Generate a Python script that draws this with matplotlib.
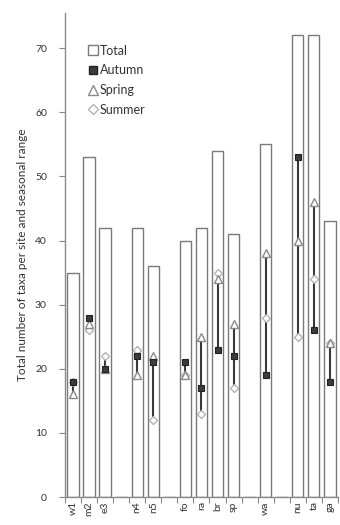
import numpy as np
import matplotlib.pyplot as plt
from matplotlib.lines import Line2D

plt.rcParams['font.family'] = ['Lato', 'DejaVu Sans']

nan = np.nan

# Sites, blank entries leave a gap between site groups
sites = ['w1', 'm2', 'e3', '', 'n4', 'n5', '', 'fo', 'ra', 'br', 'sp', '', 'wa', '', 'nu', 'ta', 'ga']

total = [35, 53, 42, nan, 42, 36, nan, 40, 42, 54, 41, nan, 55, nan, 72, 72, 43]
autumn = [18, 28, 20, nan, 22, 21, nan, 21, 17, 23, 22, nan, 19, nan, 53, 26, 18]
spring = [16, 27, 20, nan, 19, 22, nan, 19, 25, 34, 27, nan, 38, nan, 40, 46, 24]
summer = [18, 26, 22, nan, 23, 12, nan, 19, 13, 35, 17, nan, 28, nan, 25, 34, 24]

x = np.arange(len(sites))
total = np.array(total, dtype=float)
autumn = np.array(autumn, dtype=float)
spring = np.array(spring, dtype=float)
summer = np.array(summer, dtype=float)

fig = plt.figure(figsize=(3.4, 5.25), dpi=100)
ax = fig.add_axes([0.191, 0.0533, 0.803, 0.922])

axis_col = '#8a8a8a'

# total bars
ax.bar(x, np.nan_to_num(total), width=0.7, color='white', edgecolor='#7a7a7a',
       linewidth=1.0, zorder=2)

# seasonal range line
seasons = np.vstack([autumn, spring, summer])
lo = np.nanmin(seasons, axis=0)
hi = np.nanmax(seasons, axis=0)
ax.vlines(x, lo, hi, color='#3a3a3a', linewidth=1.5, zorder=3)

ax.plot(x, summer, linestyle='none', marker='D', markersize=4.5,
        markerfacecolor='white', markeredgecolor='#b5b5b5', markeredgewidth=1.0, zorder=4)
ax.plot(x, spring, linestyle='none', marker='^', markersize=5.5,
        markerfacecolor='white', markeredgecolor='#8a8a8a', markeredgewidth=1.0, zorder=5)
ax.plot(x, autumn, linestyle='none', marker='s', markersize=5,
        markerfacecolor='#3c3c3c', markeredgecolor='#222222', markeredgewidth=0.8, zorder=6)

ax.set_xlim(-0.5, len(sites) - 0.5)
ax.set_ylim(0, 75.5)
ax.set_yticks(np.arange(0, 71, 10))

# tick marks between categories, labels centred under each bar
ax.set_xticks(np.arange(-0.5, len(sites), 1.0))
ax.set_xticklabels([])
ax.set_xticks(x, minor=True)
ax.set_xticklabels(sites, minor=True, rotation=90, fontsize=7.5, color='#333333')
ax.tick_params(axis='x', which='minor', length=0, pad=3)
ax.tick_params(axis='x', which='major', length=4, direction='out', color=axis_col)
ax.tick_params(axis='y', length=4, direction='out', color=axis_col,
               labelsize=7.5, labelcolor='#333333', pad=9)

for side in ['top', 'right']:
    ax.spines[side].set_visible(False)
for side in ['left', 'bottom']:
    ax.spines[side].set_color(axis_col)
    ax.spines[side].set_linewidth(1.0)

ax.set_ylabel('Total number of taxa per site and seasonal range', fontsize=8.5,
              color='#333333', labelpad=5)

handles = [
    Line2D([], [], linestyle='none', marker='s', markersize=7, markerfacecolor='white',
           markeredgecolor='#7a7a7a', label='Total'),
    Line2D([], [], linestyle='none', marker='s', markersize=6, markerfacecolor='#3c3c3c',
           markeredgecolor='#222222', label='Autumn'),
    Line2D([], [], linestyle='none', marker='^', markersize=7, markerfacecolor='white',
           markeredgecolor='#8a8a8a', label='Spring'),
    Line2D([], [], linestyle='none', marker='D', markersize=5, markerfacecolor='white',
           markeredgecolor='#b5b5b5', label='Summer'),
]
leg = ax.legend(handles=handles, loc='upper left', bbox_to_anchor=(0.06, 0.945),
                frameon=False, fontsize=9, handletextpad=0.1, handlelength=1.0,
                labelspacing=0.62, borderaxespad=0)
for t in leg.get_texts():
    t.set_color('#333333')

fig.savefig('out.png', dpi=100)
